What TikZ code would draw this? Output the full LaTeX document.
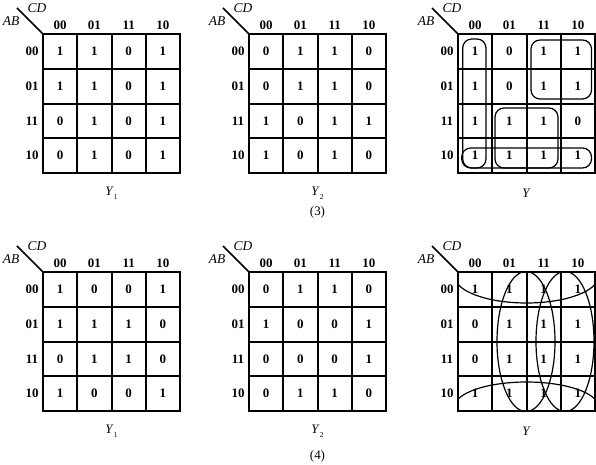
\documentclass[tikz,border=0pt]{standalone}
\usepackage{fontspec}
\setmainfont{Liberation Serif}
\tikzset{
  gridline/.style={line width=2bp},
  diagline/.style={line width=1.5bp},
  loopline/.style={line width=1.2bp},
  cell/.style={font=\fontsize{13}{15}\selectfont\bfseries, inner sep=0pt},
  hdr/.style={font=\fontsize{13}{15}\selectfont\bfseries, inner sep=0pt},
  varlab/.style={font=\fontsize{13.5}{15}\selectfont\itshape, inner sep=0pt},
  caption/.style={font=\fontsize{13}{15}\selectfont, inner sep=0pt}
}
\newcommand{\kmapdraw}[5]{%
\begin{scope}[shift={(#2,#3)}]
  \coordinate (#1-o) at (0,0);
  \coordinate (#1-diag) at (-26,-26);
  \draw[diagline] (#1-diag) -- (#1-o);
  \node[varlab] (#1-cd) at (-6,-26) {CD};
  \node[varlab] (#1-ab) at (-32,-13) {AB};
  \foreach \cc/\tt in {0/00,1/01,2/11,3/10}{
    \node[hdr] (#1-col\cc) at ({(\cc+0.5)*34.25},-9) {\tt};
    \node[hdr] (#1-row\cc) at (-11,{(\cc+0.5)*34.75}) {\tt};
  }
  \foreach \rr/\va/\vb/\vc/\vd in {#4}{
    \node[cell] (#1-\rr-0) at (17.125,{(\rr+0.5)*34.75}) {\va};
    \node[cell] (#1-\rr-1) at (51.375,{(\rr+0.5)*34.75}) {\vb};
    \node[cell] (#1-\rr-2) at (85.625,{(\rr+0.5)*34.75}) {\vc};
    \node[cell] (#1-\rr-3) at (119.875,{(\rr+0.5)*34.75}) {\vd};
  }
  \foreach \xx in {34,69,103}{
    \draw[gridline] (\xx,0) -- (\xx,139);
  }
  \foreach \yy in {35,70,104}{
    \draw[gridline] (0,\yy) -- (137,\yy);
  }
  \draw[gridline] (0,0) rectangle (137,139);
  \node[caption] (#1-name) at (68.5,159) {#5};
\end{scope}}
\newcommand{\ylab}[1]{\textit{Y}\raisebox{-0.6ex}{\fontsize{7.5}{8}\selectfont #1}}
\begin{document}
\begin{tikzpicture}[x=1bp,y=-1bp]
\useasboundingbox (0,0) rectangle (596,465);
\fill[white] (0,0) rectangle (596,465);
% (3)
\kmapdraw{ma}{43}{34}{0/1/1/0/1,1/1/1/0/1,2/0/1/0/1,3/0/1/0/1}{\ylab{1}}
\kmapdraw{mb}{249}{34}{0/0/1/1/0,1/0/1/1/0,2/1/0/1/1,3/1/0/1/0}{\ylab{2}}
\kmapdraw{mc}{458}{34}{0/1/0/1/1,1/1/0/1/1,2/1/1/1/0,3/1/1/1/1}{\textit{Y}}
\begin{scope}[shift={(458,34)}]
  \draw[loopline, rounded corners=9bp] (4.7,5) rectangle (28,134);
  \draw[loopline, rounded corners=9bp] (73,6) rectangle (133.5,65);
  \draw[loopline, rounded corners=9bp] (37,74) rectangle (100,134);
  \draw[loopline, rounded corners=9bp] (3.7,114) rectangle (133.5,134);
\end{scope}
\node[caption] (cap3) at (317.5,212) {(3)};
% (4)
\kmapdraw{md}{43}{272}{0/1/0/0/1,1/1/1/1/0,2/0/1/1/0,3/1/0/0/1}{\ylab{1}}
\kmapdraw{me}{249}{272}{0/0/1/1/0,1/1/0/0/1,2/0/0/0/1,3/0/1/1/0}{\ylab{2}}
\kmapdraw{mf}{458}{272}{0/1/1/1/1,1/0/1/1/1,2/0/1/1/1,3/1/1/1/1}{\textit{Y}}
\begin{scope}[shift={(458,272)}]
  \clip (0,0) rectangle (137,139);
  \draw[loopline] (68.5,4) ellipse [x radius=72bp, y radius=27bp];
  \draw[loopline] (68.5,135) ellipse [x radius=72bp, y radius=25bp];
  \draw[loopline] (68,69.5) ellipse [x radius=29bp, y radius=70bp];
  \draw[loopline] (107,69.5) ellipse [x radius=29bp, y radius=70bp];
\end{scope}
\node[caption] (cap4) at (317.5,456) {(4)};
\end{tikzpicture}
\end{document}
